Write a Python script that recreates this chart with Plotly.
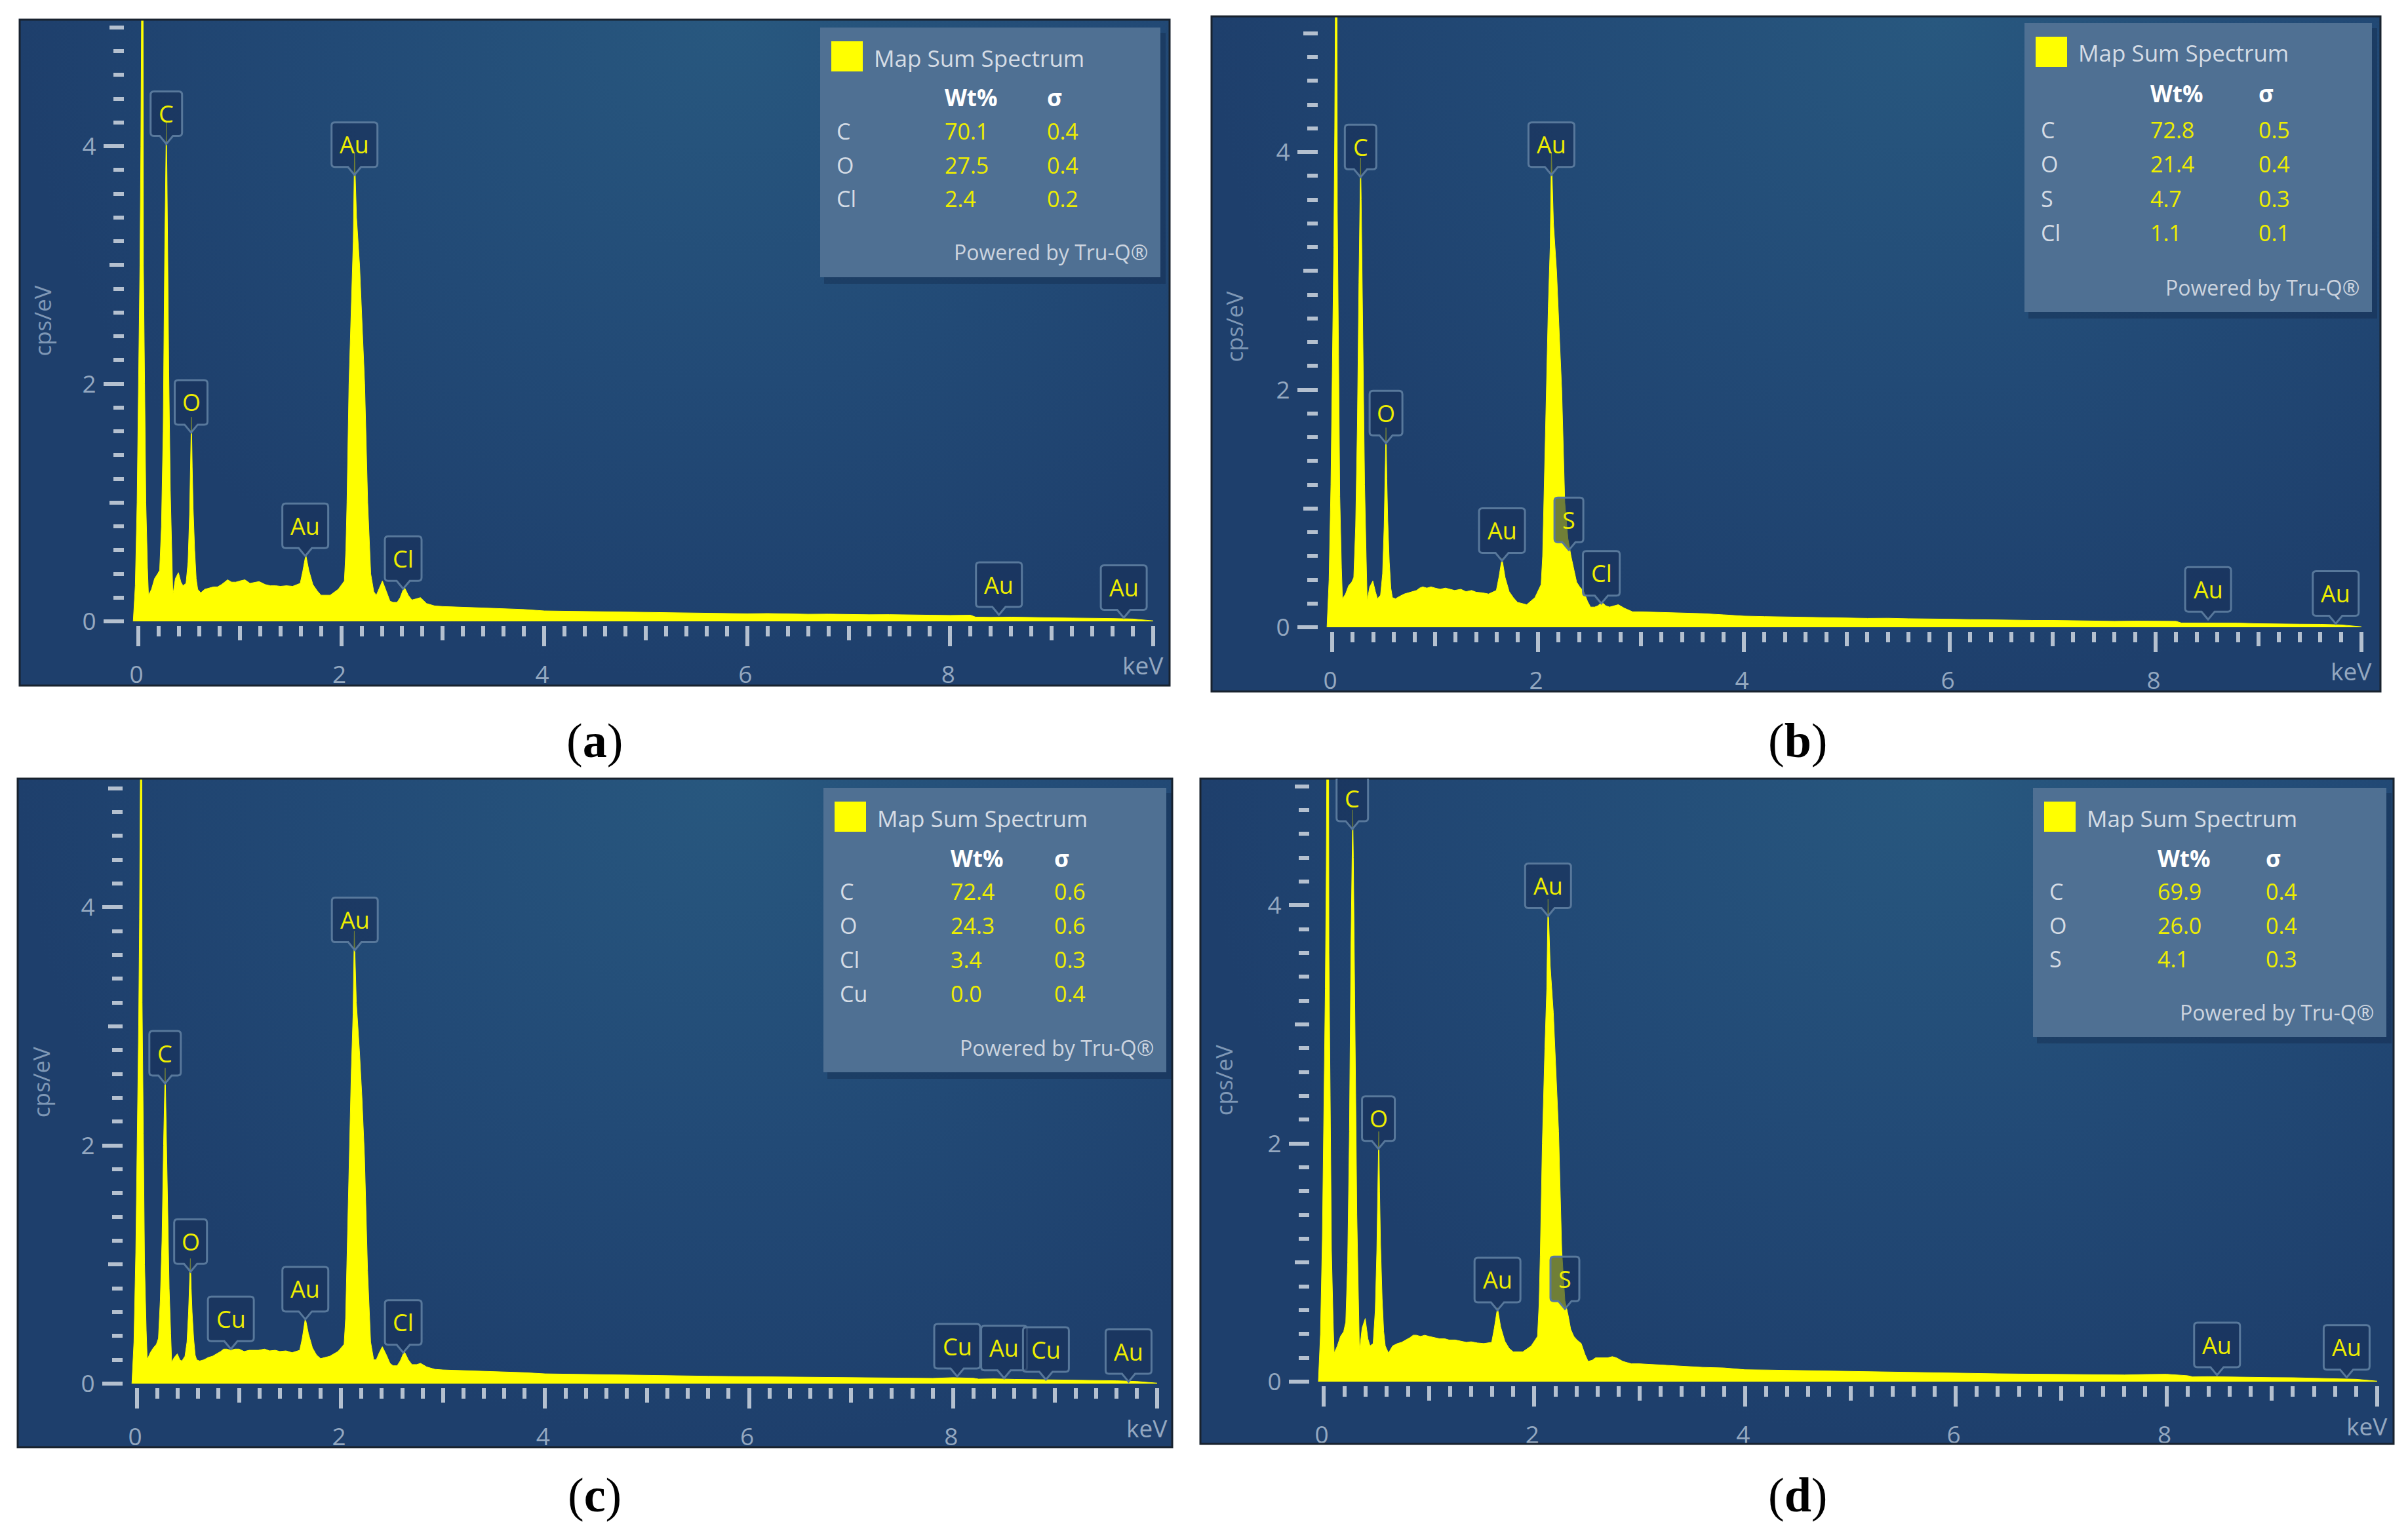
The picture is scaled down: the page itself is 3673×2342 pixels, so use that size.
import plotly.graph_objects as go

W = 3673
H = 2342

# energy grid (keV), denser around the peaks
energy = [
    -0.05, -0.03, -0.012, 0.004, 0.016, 0.025, 0.033, 0.04, 0.047, 0.05, 0.062, 0.074, 0.09, 0.1,
    0.13, 0.16, 0.19, 0.21, 0.228, 0.245, 0.26, 0.27, 0.276, 0.282, 0.29, 0.30, 0.315, 0.33, 0.34,
    0.365, 0.395, 0.42, 0.44, 0.47, 0.49, 0.505, 0.515, 0.523, 0.531, 0.54, 0.555, 0.57, 0.585, 0.615,
    0.655, 0.70, 0.74, 0.78, 0.82, 0.85, 0.88, 0.92, 0.96, 1.0, 1.05, 1.1, 1.15, 1.19, 1.25, 1.3, 1.355, 1.4, 1.46, 1.52,
    1.595, 1.62, 1.65, 1.68, 1.72, 1.76, 1.8, 1.89, 1.97,
    2.03, 2.045, 2.056, 2.076, 2.1, 2.118, 2.13, 2.15, 2.18, 2.205, 2.23, 2.26, 2.29, 2.32, 2.345,
    2.375, 2.405, 2.445, 2.48, 2.51, 2.55, 2.58, 2.62, 2.66, 2.695, 2.74, 2.78, 2.84, 2.92,
    3.0, 3.2, 3.4, 3.6, 3.8, 4.0, 4.2, 4.4, 4.6, 4.8,
    5.0, 5.2, 5.4, 5.6, 5.8, 6.0, 6.2, 6.4, 6.6, 6.8,
    7.0, 7.2, 7.4, 7.6, 7.8, 8.0, 8.2, 8.25, 8.4, 8.6, 8.8, 9.0, 9.2, 9.4, 9.6, 9.8, 10.0,
]

counts_a = [
    0, .3, 1, 2, 3, 4, 5.2, 6.5, 5.2, 3, 2, 1, .45, .22,
    .27, .36, .4, .43, .8, 1.6, 3.1, 3.7, 4.2, 3.8, 3.0, 2.1, 1.1, .55, .22,
    .36, .41, .33, .3, .32, .5, .9, 1.3, 1.72, 1.3, .95, .6, .36, .27, .24,
    .27, .28, .29, .29, .31, .33, .35, .33, .33, .34, .35, .32, .33, .335, .31, .30, .30, .295, .30, .295,
    .32, .42, .56, .43, .31, .26, .22, .22, .27,
    .34, .6, 1, 2, 2.7, 3.2, 3.95, 3.4, 3, 2.5, 2, 1, .4, .25, .22,
    .28, .34, .25, .17, .16, .16, .2, .29, .22, .18, .19, .2, .15, .13,
    .125, .118, .112, .105, .1, .088, .086, .082, .08, .078,
    .075, .072, .073, .069, .068, .064, .066, .062, .06, .061,
    .058, .056, .057, .053, .052, .05, .052, .036, .034, .036, .031, .03, .028, .028, .024, .02, .004,
]
counts_b = [
    0, .4, 1.2, 2.2, 3.2, 4.2, 5.2, 6.8, 5.4, 3.5, 2.3, 1.1, .5, .24,
    .28, .35, .38, .42, .85, 1.7, 2.9, 3.5, 3.95, 3.6, 3.0, 2.2, 1.2, .6, .22,
    .34, .39, .3, .24, .27, .45, .85, 1.3, 1.68, 1.25, .9, .55, .33, .25, .24,
    .26, .28, .29, .3, .31, .33, .34, .33, .34, .33, .32, .33, .32, .31, .32, .30, .31, .295, .29, .28,
    .31, .42, .58, .42, .3, .25, .21, .19, .25,
    .36, .6, 1, 1.9, 2.7, 3.2, 4, 3.4, 3, 2.5, 2, 1.05, .75, .6, .5,
    .38, .34, .3, .22, .17, .17, .18, .21, .18, .17, .18, .19, .16, .13,
    .13, .125, .12, .115, .105, .094, .09, .088, .085, .08,
    .078, .075, .076, .072, .068, .068, .065, .062, .06, .058,
    .058, .055, .054, .05, .052, .05, .05, .036, .036, .034, .035, .03, .03, .026, .025, .02, .004,
]
counts_c = [
    0, .35, 1.1, 2.1, 3, 3.9, 5, 6.2, 5, 3.2, 2.1, 1, .45, .2,
    .26, .3, .33, .38, .7, 1.2, 2.0, 2.35, 2.65, 2.35, 1.95, 1.45, .8, .42, .18,
    .22, .25, .2, .19, .23, .35, .6, .85, 1.05, .8, .6, .38, .24, .2, .19,
    .2, .22, .23, .25, .27, .29, .29, .28, .29, .29, .27, .28, .28, .28, .29, .275, .28, .27, .275, .26,
    .28, .38, .55, .42, .3, .24, .21, .23, .27,
    .33, .55, .95, 1.8, 2.6, 3.1, 3.8, 3.2, 2.8, 2.4, 1.9, .95, .35, .2, .2,
    .26, .31, .24, .17, .15, .15, .19, .27, .2, .16, .16, .17, .14, .12,
    .115, .11, .105, .098, .092, .082, .08, .078, .074, .07,
    .068, .066, .066, .062, .06, .058, .058, .055, .054, .05,
    .05, .048, .048, .045, .044, .05, .045, .038, .04, .036, .034, .033, .032, .028, .024, .018, .004,
]
counts_d = [
    0, .4, 1.2, 2.3, 3.3, 4.3, 5.4, 7, 5.5, 3.6, 2.4, 1.1, .5, .24,
    .3, .38, .42, .5, 1.0, 2.1, 3.7, 4.4, 4.8, 4.4, 3.6, 2.6, 1.4, .7, .25,
    .45, .53, .36, .3, .32, .6, 1.1, 1.6, 2.1, 1.6, 1.15, .7, .42, .3, .24,
    .3, .32, .33, .35, .37, .39, .39, .38, .39, .38, .37, .36, .36, .35, .35, .34, .33, .335, .325, .32,
    .33, .45, .62, .46, .34, .28, .25, .25, .3,
    .38, .65, 1.05, 2, 2.8, 3.3, 4.05, 3.5, 3.1, 2.6, 2.1, 1.1, .68, .56, .44,
    .38, .35, .32, .23, .17, .18, .2, .2, .2, .2, .21, .2, .17, .15,
    .15, .14, .13, .12, .115, .1, .098, .095, .09, .088,
    .085, .08, .08, .076, .072, .072, .068, .066, .064, .062,
    .06, .06, .058, .056, .06, .062, .05, .04, .042, .038, .036, .034, .033, .03, .026, .02, .004,
]
spectra = [counts_a, counts_b, counts_c, counts_d]
for s in spectra:
    assert len(s) == len(energy), len(s)

# peak labels: element, energy of the pin tip, height of the pin tip
pins_a = [("C", .276, 4.02), ("O", .52, 1.59), ("Au", 1.645, .55), ("Au", 2.13, 3.76), ("Cl", 2.61, .275),
          ("Au", 8.48, .055), ("Au", 9.71, .03)]
pins_b = [("C", .276, 3.79), ("O", .523, 1.55), ("Au", 1.65, .56), ("Au", 2.13, 3.81), ("S", 2.30, .65),
          ("Cl", 2.615, .2), ("Au", 8.51, .065), ("Au", 9.75, .03)]
pins_c = [("C", .275, 2.52), ("O", .525, .94), ("Cu", .92, .29), ("Au", 1.65, .54), ("Au", 2.135, 3.64),
          ("Cl", 2.61, .26), ("Cu", 8.04, .06), ("Au", 8.5, .045), ("Cu", 8.91, .033), ("Au", 9.72, .016)]
pins_d = [("C", .272, 4.64), ("O", .52, 1.955), ("Au", 1.65, .6), ("Au", 2.13, 3.91), ("S", 2.29, .61),
          ("Au", 8.48, .055), ("Au", 9.71, .035)]
pins = [pins_a, pins_b, pins_c, pins_d]

# quantification tables
elements = [["C", "O", "Cl"], ["C", "O", "S", "Cl"], ["C", "O", "Cl", "Cu"], ["C", "O", "S"]]
wt_pct = [["70.1", "27.5", "2.4"], ["72.8", "21.4", "4.7", "1.1"], ["72.4", "24.3", "3.4", "0.0"], ["69.9", "26.0", "4.1"]]
sigma = [["0.4", "0.4", "0.2"], ["0.5", "0.4", "0.3", "0.1"], ["0.6", "0.6", "0.3", "0.4"], ["0.4", "0.4", "0.3"]]
captions = ["a", "b", "c", "d"]

x_major = [0, 2, 4, 6, 8, 10]
x_labels = ["0", "2", "4", "6", "8", ""]
x_mid = [1, 3, 5, 7, 9]
x_minor = [i / 5 for i in range(51) if i % 5 != 0]
y_major = [0, 2, 4]
y_mid = [1, 3, 5]
y_minor = [i / 5 for i in range(26) if i % 5 != 0]

# page layout in pixels: frame, position of 0 on both axes, px per keV and per cps/eV,
# table box with its row start, row pitch and column offsets
panels = [
    dict(l=30, r=1784, t=30, b=1046, x0=211, y0=948, kx=154.8, ky=181.2, box=(1251, 42, 1770, 423),
         row0=158, pitch=51.5, col_wt=188, col_sig=344, cap=(907, 1130)),
    dict(l=1848, r=3631, t=25, b=1055, x0=2032, y0=957, kx=157.0, ky=181.2, box=(3088, 35, 3618, 476),
         row0=163, pitch=52.5, col_wt=190, col_sig=355, cap=(2742, 1130)),
    dict(l=27, r=1788, t=1188, b=2208, x0=209, y0=2111, kx=155.6, ky=181.7, box=(1256, 1202, 1779, 1636),
         row0=158, pitch=52, col_wt=192, col_sig=350, cap=(907, 2281)),
    dict(l=1831, r=3651, t=1188, b=2203, x0=2019, y0=2108, kx=160.7, ky=181.7, box=(3101, 1202, 3640, 1582),
         row0=158, pitch=51.5, col_wt=188, col_sig=353, cap=(2742, 2281)),
]

pin_half = {"C": 24, "O": 25, "S": 22, "Cl": 28, "Au": 35, "Cu": 35}

FONT = "Open Sans"
TICK = "#b4c0cf"
LABEL = "#94a8c0"
YELLOW = "#eeee00"
GLOW = [[0, "#28587f"], [0.55, "#224a76"], [1, "#1e3f6c"]]


def pin_path(w):
    return (f"M 0 0 L -10 12 L {-w + 5} 12 Q {-w} 12 {-w} 17 L {-w} 75 Q {-w} 80 {-w + 5} 80 "
            f"L {w - 5} 80 Q {w} 80 {w} 75 L {w} 17 Q {w} 12 {w - 5} 12 L 10 12 Z")


fig = go.Figure()
layout = dict(
    width=W, height=H, margin=dict(l=0, r=0, t=0, b=0), autosize=False,
    paper_bgcolor="white", plot_bgcolor="rgba(0,0,0,0)", showlegend=False,
    font=dict(family=FONT, color=LABEL),
)
shapes = []
notes = []

for i, p in enumerate(panels):
    n = i + 1
    m = i + 5
    xa, ya, xb, yb = f"x{n}", f"y{n}", f"x{m}", f"y{m}"
    x_range = [(p["l"] - p["x0"]) / p["kx"], (p["r"] - p["x0"]) / p["kx"]]
    y_range = [(p["y0"] - p["b"]) / p["ky"], (p["y0"] - p["t"]) / p["ky"]]
    x_dom = [p["l"] / W, p["r"] / W]
    y_dom = [1 - p["b"] / H, 1 - p["t"] / H]
    x_pos = 1 - (p["y0"] + 6) / H
    y_pos = (p["x0"] - 22) / W

    x_common = dict(domain=x_dom, range=x_range, anchor="free", position=x_pos, side="bottom",
                    showgrid=False, zeroline=False, showline=False, ticks="outside", tickwidth=6,
                    tickcolor=TICK)
    y_common = dict(domain=y_dom, range=y_range, anchor="free", position=y_pos, side="left",
                    showgrid=False, zeroline=False, showline=False, ticks="outside", tickwidth=6,
                    tickcolor=TICK)

    layout[f"xaxis{n}"] = dict(
        x_common, tickmode="array", tickvals=x_major, ticktext=x_labels, ticklen=31,
        tickfont=dict(size=37, color=LABEL, family=FONT), ticklabelstandoff=12, ticklabelshift=-3,
        minor=dict(tickmode="array", tickvals=x_minor, ticks="outside", ticklen=16, tickwidth=6, tickcolor=TICK),
    )
    layout[f"yaxis{n}"] = dict(
        y_common, tickmode="array", tickvals=y_major, ticktext=[str(v) for v in y_major], ticklen=31,
        tickfont=dict(size=37, color=LABEL, family=FONT), ticklabelstandoff=4,
        minor=dict(tickmode="array", tickvals=y_minor, ticks="outside", ticklen=16, tickwidth=6, tickcolor=TICK),
    )
    # third tick length needs its own axis pair
    layout[f"xaxis{m}"] = dict(x_common, overlaying=xa, tickmode="array", tickvals=x_mid, ticklen=22,
                               showticklabels=False)
    layout[f"yaxis{m}"] = dict(y_common, overlaying=ya, tickmode="array", tickvals=y_mid, ticklen=22,
                               showticklabels=False)

    # panel background, glow centred near the top edge
    bx0, bx1 = x_range[0], x_range[1] + 0.24 * (x_range[1] - x_range[0])
    by0, by1 = y_range[0], y_range[1] + (y_range[1] - y_range[0])
    fig.add_trace(go.Scatter(
        x=[bx0, bx1, bx1, bx0, bx0], y=[by0, by0, by1, by1, by0], mode="none", fill="toself",
        fillgradient=dict(type="radial", colorscale=GLOW), xaxis=xa, yaxis=ya, hoverinfo="skip",
    ))
    fig.add_trace(go.Scatter(
        x=energy, y=spectra[i], mode="lines", fill="tozeroy", fillcolor="#ffff00",
        line=dict(color="#ffff00", width=1), xaxis=xa, yaxis=ya, name="Map Sum Spectrum",
    ))
    fig.add_trace(go.Scatter(x=[0], y=[0], mode="none", xaxis=xb, yaxis=yb, hoverinfo="skip"))

    # frame
    shapes.append(dict(type="rect", xref="paper", yref="paper", x0=p["l"] / W, x1=p["r"] / W,
                       y0=1 - p["b"] / H, y1=1 - p["t"] / H, line=dict(color="#18222e", width=3),
                       fillcolor="rgba(0,0,0,0)", layer="above"))

    # axis words
    notes.append(dict(text="cps/eV", xref="paper", yref="paper", x=(p["l"] + 35) / W,
                      y=1 - (p["y0"] - 2.53 * p["ky"]) / H, textangle=-90, showarrow=False,
                      xanchor="center", yanchor="middle",
                      font=dict(size=35, color="#7f98b6", family=FONT)))
    notes.append(dict(text="keV", xref=xa, yref="paper", x=10, xshift=-16, xanchor="center", yanchor="middle",
                      y=1 - (p["y0"] + 67) / H, showarrow=False, font=dict(size=37, color=LABEL, family=FONT)))

    # peak pins
    for el, kev, top in pins[i]:
        shapes.append(dict(type="path", xref=xa, yref=ya, xsizemode="pixel", ysizemode="pixel",
                           xanchor=kev, yanchor=top, path=pin_path(pin_half[el]),
                           fillcolor="rgba(24,48,88,0.62)", line=dict(color="#58789b", width=3),
                           layer="above"))
        notes.append(dict(text=el, xref=xa, yref=ya, x=kev, y=top, yshift=46, showarrow=False,
                          font=dict(size=36, color=YELLOW, family=FONT)))

    # results table
    bl, bt, br, bb = p["box"]
    shapes.append(dict(type="rect", xref="paper", yref="paper", x0=(bl + 6) / W, x1=(br + 8) / W,
                       y0=1 - (bb + 10) / H, y1=1 - (bt + 8) / H, fillcolor="rgba(12,30,60,0.3)",
                       line=dict(width=0), layer="above"))
    shapes.append(dict(type="rect", xref="paper", yref="paper", x0=bl / W, x1=br / W,
                       y0=1 - bb / H, y1=1 - bt / H, fillcolor="#4f7093", line=dict(width=0), layer="above"))
    shapes.append(dict(type="rect", xref="paper", yref="paper", x0=(bl + 17) / W, x1=(bl + 65) / W,
                       y0=1 - (bt + 67) / H, y1=1 - (bt + 21) / H, fillcolor="#ffff00", line=dict(width=0),
                       layer="above"))

    def put(text, px, py, color, size=34, anchor="left", bold=False):
        notes.append(dict(text=f"<b>{text}</b>" if bold else text, xref="paper", yref="paper",
                          x=px / W, y=1 - py / H, xanchor=anchor, yanchor="middle", showarrow=False,
                          font=dict(size=size, color=color, family=FONT)))

    put("Map Sum Spectrum", bl + 80, bt + 46, "#d5dce5", size=35)
    put("Wt%", bl + p["col_wt"], bt + 107, "#ffffff", size=35, bold=True)
    put("σ", bl + p["col_sig"], bt + 107, "#ffffff", size=35, bold=True)
    for r, el in enumerate(elements[i]):
        ry = bt + p["row0"] + p["pitch"] * r
        put(el, bl + 23, ry, "#d5dce5")
        put(wt_pct[i][r], bl + p["col_wt"], ry, YELLOW)
        put(sigma[i][r], bl + p["col_sig"], ry, YELLOW)
    put("Powered by Tru-Q®", br - 17, bb - 38, "#ccd4df", size=32, anchor="right")

    # caption
    cx, cy = p["cap"]
    notes.append(dict(text=f"(<b>{captions[i]}</b>)", xref="paper", yref="paper", x=cx / W, y=1 - cy / H,
                      xanchor="center", yanchor="middle", showarrow=False,
                      font=dict(size=74, color="black", family="Liberation Serif")))

layout["shapes"] = shapes
layout["annotations"] = notes
fig.update_layout(**layout)
# the page's default body margin would push the figure off by 8px
fig.write_html("out.html", config={"displayModeBar": False}, post_script="document.body.style.margin='0';")
